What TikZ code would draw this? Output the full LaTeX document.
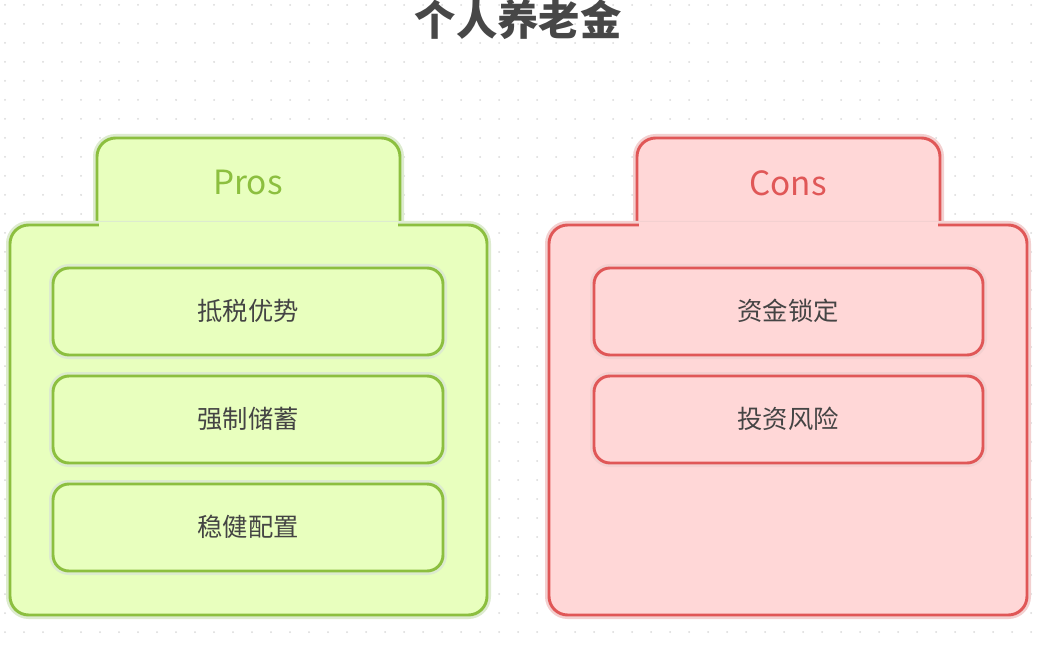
\documentclass[tikz,border=0pt]{standalone}
\usepackage{fontspec}
\setmainfont{Noto Sans CJK SC}
\begin{document}
\begin{tikzpicture}[x=0.75pt,y=-0.75pt,
  gbox/.style={draw=gB,fill=gF,line width=2.2pt,rounded corners=14pt},
  rbox/.style={draw=rB,fill=rF,line width=2.2pt,rounded corners=14pt},
  gglow/.style={draw=gG,line width=6pt,rounded corners=14pt},
  rglow/.style={draw=rG,line width=6pt,rounded corners=14pt},
  itemtxt/.style={text=txt,font=\fontsize{19}{22}\selectfont},
  tabtxt/.style={font=\fontsize{25}{28}\selectfont}]
\definecolor{gB}{HTML}{8CBF3F}
\definecolor{gF}{HTML}{E8FFBE}
\definecolor{gG}{HTML}{DDEBCF}
\definecolor{rB}{HTML}{E05757}
\definecolor{rF}{HTML}{FFD7D7}
\definecolor{rG}{HTML}{F3D0D0}
\definecolor{txt}{HTML}{444444}
\useasboundingbox (0,0) rectangle (1043,649);
\fill[white] (0,0) rectangle (1043,649);
\foreach \i in {0,...,55}{\foreach \j in {0,...,34}{
  \fill[black!15] (\i*19+5,\j*19+5) circle (1);}}
\node[font=\bfseries\fontsize{31}{34}\selectfont,text=black!72] (title) at (518,20) {个人养老金};
% Pros
\draw[gglow] (97,225) -- (97,138) -- (400,138) -- (400,225);
\path[gbox] (97,232) -- (97,138) -- (400,138) -- (400,232);
\draw[gglow] (10,225) rectangle (487,615);
\draw[gbox] (10,225) rectangle (487,615);
\fill[gF] (99,222) rectangle (398,228);
\node[tabtxt,text=gB] (pros) at (248,183) {Pros};
\foreach \y/\t/\n in {268/抵税优势/p1,376/强制储蓄/p2,484/稳健配置/p3}{
  \draw[gglow,rounded corners=12pt] (53,\y) rectangle (443,\y+87);
  \draw[gbox,rounded corners=12pt] (53,\y) rectangle (443,\y+87);
  \node[itemtxt] (\n) at (248,\y+43) {\t};}
% Cons
\draw[rglow] (637,225) -- (637,138) -- (940,138) -- (940,225);
\path[rbox] (637,232) -- (637,138) -- (940,138) -- (940,232);
\draw[rglow] (549,225) rectangle (1027,615);
\draw[rbox] (549,225) rectangle (1027,615);
\fill[rF] (639,222) rectangle (938,228);
\node[tabtxt,text=rB] (cons) at (788,183) {Cons};
\foreach \y/\t/\n in {268/资金锁定/c1,376/投资风险/c2}{
  \draw[rglow,rounded corners=12pt] (594,\y) rectangle (983,\y+87);
  \draw[rbox,rounded corners=12pt] (594,\y) rectangle (983,\y+87);
  \node[itemtxt] (\n) at (788,\y+43) {\t};}
\end{tikzpicture}
\end{document}
